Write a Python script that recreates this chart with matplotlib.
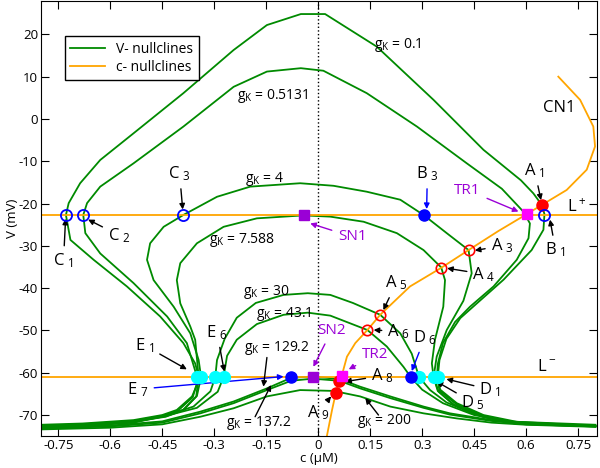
import matplotlib
matplotlib.use("Agg")
import matplotlib.pyplot as plt

plt.rcParams['font.family'] = ['Open Sans', 'DejaVu Sans']
plt.rcParams['mathtext.default'] = 'regular'
plt.rcParams['axes.unicode_minus'] = False

# ---- data: V-nullclines (c in uM, V in mV)
gk_01_c = [-0.8, -0.68, -0.533, -0.45, -0.408, -0.364, -0.348, -0.345, -0.355, -0.389, -0.456, -0.552, -0.648,
           -0.715, -0.728, -0.72, -0.687, -0.629, -0.533, -0.389, -0.244, -0.148, -0.05, 0.02, 0.169, 0.333,
           0.477, 0.585, 0.621, 0.645, 0.653, 0.65, 0.616, 0.535, 0.458, 0.41, 0.37, 0.35, 0.345, 0.352, 0.4,
           0.477, 0.573, 0.8]
gk_01_v = [-72.3, -72.0, -71.2, -70.0, -68.8, -65.6, -62.5, -60.9, -57.8, -53.0, -46.7, -39.6, -33.3,
           -28.6, -22.7, -19.9, -15.2, -9.7, -3.4, 6.1, 16.3, 22.2, 24.8, 24.8, 17.1, 4.5,
           -7.3, -14.5, -17.6, -20.3, -22.5, -26.2, -31.0, -38.0, -43.6, -47.1, -52.0, -57.0, -61.0, -64.0, -67.2,
           -70.0, -71.6, -72.3]

gk_05_c = [-0.8, -0.68, -0.533, -0.45, -0.405, -0.362, -0.35, -0.35, -0.379, -0.436, -0.533, -0.629, -0.672,
           -0.678, -0.667, -0.629, -0.533, -0.389, -0.244, -0.148, -0.05, 0.015, 0.14, 0.285, 0.429, 0.53,
           0.592, 0.611, 0.607, 0.573, 0.506, 0.438, 0.395, 0.36, 0.345, 0.343, 0.35, 0.398, 0.477, 0.573, 0.8]
gk_05_v = [-72.5, -72.2, -71.4, -70.2, -69.0, -65.8, -62.5, -60.9, -53.0, -46.7, -38.8, -31.8, -27.0,
           -22.7, -19.9, -16.0, -10.5, -1.8, 7.6, 11.2, 12.0, 11.4, 6.1, -1.8, -10.5, -16.5,
           -21.9, -24.7, -28.2, -33.3, -39.6, -44.4, -48.0, -53.0, -58.0, -61.0, -64.2, -67.4, -70.2, -71.8, -72.5]

gk_4_c = [-0.8, -0.68, -0.533, -0.44, -0.39, -0.35, -0.338, -0.345, -0.369, -0.417, -0.475, -0.494, -0.485,
          -0.446, -0.389, -0.292, -0.196, -0.052, 0.044, 0.14, 0.237, 0.304, 0.371, 0.434, 0.443, 0.419,
          0.371, 0.342, 0.333, 0.345, 0.39, 0.477, 0.573, 0.8]
gk_4_v = [-72.6, -72.3, -71.5, -70.3, -68.8, -65.5, -61.0, -57.0, -50.7, -44.4, -38.1, -33.3, -29.4,
          -25.5, -22.7, -18.4, -16.0, -15.2, -15.8, -17.2, -19.1, -22.7, -27.0, -31.0, -36.5, -43.0,
          -49.9, -56.2, -61.0, -64.3, -67.5, -70.4, -72.0, -72.6]

gk_7_c = [-0.8, -0.68, -0.533, -0.44, -0.39, -0.352, -0.345, -0.355, -0.369, -0.398, -0.408, -0.398, -0.35,
          -0.273, -0.177, -0.042, 0.035, 0.131, 0.227, 0.304, 0.355, 0.366, 0.361, 0.337, 0.328, 0.333,
          0.347, 0.392, 0.477, 0.573, 0.8]
gk_7_v = [-72.7, -72.4, -71.6, -70.4, -68.9, -65.6, -61.0, -52.2, -49.1, -43.6, -38.1, -34.1, -29.4,
          -25.5, -23.5, -22.8, -23.1, -24.3, -27.0, -31.0, -35.1, -38.1, -44.4, -52.2, -57.8, -61.0,
          -64.4, -67.6, -70.5, -72.1, -72.7]

gk_30_c = [-0.8, -0.68, -0.533, -0.436, -0.36, -0.311, -0.297, -0.292, -0.27, -0.235, -0.18, -0.1, -0.03,
           0.035, 0.1, 0.179, 0.237, 0.27, 0.291, 0.323, 0.37, 0.45, 0.55, 0.8]
gk_30_v = [-72.8, -72.5, -71.7, -70.0, -68.0, -64.4, -61.0, -57.0, -52.0, -47.0, -43.5, -41.6, -41.2,
           -41.6, -43.5, -46.3, -50.7, -55.5, -61.0, -64.1, -67.0, -69.8, -71.5, -72.6]

gk_43_c = [-0.8, -0.68, -0.533, -0.44, -0.35, -0.29, -0.273, -0.263, -0.235, -0.177, -0.1, -0.03, 0.035,
           0.142, 0.198, 0.246, 0.267, 0.3, 0.36, 0.45, 0.55, 0.8]
gk_43_v = [-72.9, -72.6, -71.8, -70.2, -68.3, -64.5, -61.0, -56.0, -52.2, -48.5, -46.3, -45.8, -46.5,
           -49.9, -53.8, -58.6, -61.0, -64.0, -67.2, -70.0, -71.6, -72.7]

gk_129_c = [-0.8, -0.6, -0.45, -0.34, -0.244, -0.148, -0.078, -0.016, 0.063, 0.121, 0.208, 0.304, 0.38,
            0.5, 0.6, 0.8]
gk_129_v = [-73.0, -72.5, -71.5, -69.2, -66.8, -63.7, -61.2, -60.9, -61.5, -63.3, -65.6, -68.0, -69.6,
            -71.2, -72.0, -72.5]

gk_137_c = [-0.8, -0.6, -0.45, -0.34, -0.244, -0.148, -0.078, -0.016, 0.061, 0.121, 0.208, 0.304, 0.38,
            0.5, 0.6, 0.8]
gk_137_v = [-73.2, -72.7, -71.8, -69.6, -67.2, -64.1, -61.9, -61.4, -61.9, -63.7, -66.0, -68.3, -69.9,
            -71.4, -72.2, -72.7]

gk_200_c = [-0.8, -0.6, -0.45, -0.34, -0.244, -0.148, -0.052, 0.044, 0.121, 0.208, 0.304, 0.4, 0.5, 0.6, 0.8]
gk_200_v = [-73.4, -73.0, -72.2, -70.4, -68.4, -65.6, -64.1, -64.3, -65.6, -68.0, -69.6, -70.8, -71.8,
            -72.3, -72.8]

# c-nullclines
cn1_c = [0.025, 0.04, 0.051, 0.061, 0.068, 0.083, 0.107, 0.142, 0.179, 0.265, 0.355, 0.434, 0.52, 0.602,
         0.646, 0.717, 0.775, 0.799, 0.794, 0.756, 0.693]
cn1_v = [-75.0, -68.8, -64.7, -61.9, -60.7, -56.2, -53.0, -49.9, -46.3, -39.6, -35.2, -31.0, -26.5, -22.5,
         -20.3, -16.8, -12.0, -6.5, -1.8, 4.5, 10.0]
l_plus = -22.8
l_minus = -61.0

# equilibria / special points
red_full_c = [0.646, 0.061, 0.051]
red_full_v = [-20.3, -61.9, -64.7]
red_open_c = [0.434, 0.355, 0.179, 0.142]
red_open_v = [-31.0, -35.2, -46.3, -49.9]
blue_open_c = [-0.728, -0.678, -0.389, 0.653]
blue_open_v = [-22.8, -22.8, -22.8, -22.6]
blue_full_c = [0.304, 0.267, -0.078]
blue_full_v = [-22.8, -61.0, -61.0]
cyan_c = [-0.35, -0.338, -0.297, -0.273, 0.291, 0.333, 0.345]
magenta_c = [0.602, 0.068]
magenta_v = [-22.5, -60.7]
purple_c = [-0.042, -0.016]
purple_v = [-22.8, -61.0]

x_ticks = [-0.75, -0.6, -0.45, -0.3, -0.15, 0, 0.15, 0.3, 0.45, 0.6, 0.75]
x_ticklabels = ['-0.75', '-0.6', '-0.45', '-0.3', '-0.15', '0', '0.15', '0.3', '0.45', '0.6', '0.75']
y_ticks = [-70, -60, -50, -40, -30, -20, -10, 0, 10, 20]

green = '#008a00'
orange = '#ffa500'
purple = '#9a00d6'

fig = plt.figure(figsize=(6, 4.68), dpi=100)
ax = fig.add_axes([0.0683, 0.068, 0.9275, 0.93])

ax.axvline(0, color='k', ls=':', lw=1)

curves = [(gk_01_c, gk_01_v), (gk_05_c, gk_05_v), (gk_4_c, gk_4_v), (gk_7_c, gk_7_v),
          (gk_30_c, gk_30_v), (gk_43_c, gk_43_v), (gk_129_c, gk_129_v), (gk_137_c, gk_137_v),
          (gk_200_c, gk_200_v)]
for i, (cc, vv) in enumerate(curves):
    ax.plot(cc, vv, color=green, lw=1.3, label='V- nullclines' if i == 0 else None)

ax.axhline(l_plus, color=orange, lw=1.3, label='c- nullclines')
ax.axhline(l_minus, color=orange, lw=1.3)
ax.plot(cn1_c, cn1_v, color=orange, lw=1.3)

# annotations: (text, text pos, arrow tip, colour)
notes = [
    ('C$_{\\ 1}$', (-0.735, -33.5), (-0.729, -23.6), 'k'),
    ('C$_{\\ 2}$', (-0.575, -27.5), (-0.664, -23.8), 'k'),
    ('C$_{\\ 3}$', (-0.4, -13.0), (-0.391, -21.4), 'k'),
    ('B$_{\\ 3}$', (0.315, -13.0), (0.313, -21.3), 'b'),
    ('B$_{\\ 1}$', (0.685, -31.0), (0.669, -23.8), 'k'),
    ('A$_{\\ 1}$', (0.625, -12.3), (0.643, -19.2), 'k'),
    ('A$_{\\ 3}$', (0.53, -30.0), (0.452, -31.1), 'k'),
    ('A$_{\\ 4}$', (0.478, -36.7), (0.372, -35.3), 'k'),
    ('A$_{\\ 5}$', (0.225, -38.8), (0.188, -45.2), 'k'),
    ('A$_{\\ 6}$', (0.232, -50.2), (0.16, -49.9), 'k'),
    ('D$_{\\ 6}$', (0.308, -51.7), (0.27, -59.6), 'b'),
    ('D$_{\\ 1}$', (0.497, -64.0), (0.37, -61.5), 'k'),
    ('D$_{\\ 5}$', (0.448, -67.1), (0.342, -62.1), 'k'),
    ('A$_{\\ 8}$', (0.185, -60.7), (0.078, -62.1), 'k'),
    ('A$_{\\ 9}$', (0.0, -69.4), (0.037, -65.6), 'k'),
    ('E$_{\\ 1}$', (-0.5, -53.6), (-0.379, -59.2), 'k'),
    ('E$_{\\ 6}$', (-0.292, -50.5), (-0.271, -59.7), 'k'),
    ('E$_{\\ 7}$', (-0.52, -63.9), (-0.1, -60.9), 'b'),
]
for txt, pos, tip, col in notes:
    ax.annotate(txt, xy=tip, xytext=pos, fontsize=12, ha='center', va='center',
                arrowprops=dict(arrowstyle='-|>', color=col, lw=1, mutation_scale=8, shrinkA=2, shrinkB=0))

purple_notes = [
    ('TR1', (0.43, -16.8), (0.578, -21.9)),
    ('SN1', (0.1, -27.9), (-0.023, -24.7)),
    ('SN2', (0.04, -49.9), (-0.014, -58.6)),
    ('TR2', (0.165, -55.8), (0.088, -59.2)),
]
for txt, pos, tip in purple_notes:
    ax.annotate(txt, xy=tip, xytext=pos, fontsize=11, color=purple, ha='center', va='center',
                arrowprops=dict(arrowstyle='-|>', color=purple, lw=1, mutation_scale=8, shrinkA=3, shrinkB=0))

# gK labels
gk_labels = [('g$_K$ = 0.1', (0.23, 17.5)), ('g$_K$ = 0.5131', (-0.13, 5.5)), ('g$_K$ = 4', (-0.155, -14.2)),
             ('g$_K$ = 7.588', (-0.22, -28.6)), ('g$_K$ = 30', (-0.15, -40.9)), ('g$_K$ = 43.1', (-0.1, -46.0)),
             ('g$_K$ = 129.2', (-0.12, -54.2)), ('g$_K$ = 137.2', (-0.17, -72.0)), ('g$_K$ = 200', (0.19, -71.4))]
for txt, pos in gk_labels:
    ax.text(pos[0], pos[1], txt, fontsize=10, ha='center', va='center')

ax.annotate('', xy=(-0.158, -63.3), xytext=(-0.148, -56.4),
            arrowprops=dict(arrowstyle='-|>', color='k', lw=1, mutation_scale=8, shrinkA=0, shrinkB=0))
ax.annotate('', xy=(-0.136, -62.9), xytext=(-0.182, -70.4),
            arrowprops=dict(arrowstyle='-|>', color='k', lw=1, mutation_scale=8, shrinkA=0, shrinkB=0))
ax.annotate('', xy=(0.136, -66.0), xytext=(0.174, -70.0),
            arrowprops=dict(arrowstyle='-|>', color='k', lw=1, mutation_scale=8, shrinkA=0, shrinkB=0))

ax.text(0.695, 2.6, 'CN1', fontsize=12, ha='center', va='center')
ax.text(0.745, -20.8, 'L$^+$', fontsize=12, ha='center', va='center')
ax.text(0.66, -58.6, 'L$^-$', fontsize=12, ha='center', va='center')

# markers
ax.plot(cyan_c, [l_minus] * len(cyan_c), 'o', color='cyan', ms=8.5, zorder=5)
ax.plot(red_full_c, red_full_v, 'o', color='red', ms=8, zorder=6)
ax.plot(red_open_c, red_open_v, 'o', mfc='none', mec='red', mew=1.2, ms=7.5, zorder=6)
ax.plot(blue_open_c, blue_open_v, 'o', mfc='none', mec='blue', mew=1.3, ms=8, zorder=6)
ax.plot(blue_full_c, blue_full_v, 'o', color='blue', ms=8, zorder=6)
ax.plot(magenta_c, magenta_v, 's', color='magenta', ms=7.5, zorder=6)
ax.plot(purple_c, purple_v, 's', color=purple, ms=7, zorder=6)

ax.set_xlim(-0.8, 0.806)
ax.set_ylim(-75, 27.9)
ax.set_xticks(x_ticks)
ax.set_xticklabels(x_ticklabels)
ax.set_yticks(y_ticks)
ax.tick_params(direction='in', top=True, right=True, length=6, labelsize=9.5, pad=2)
ax.set_xlabel('c (μM)', fontsize=9.5, labelpad=0)
ax.set_ylabel('V (mV)', fontsize=9.5, labelpad=0)

ax.legend(loc='upper left', bbox_to_anchor=(0.03, 0.935), fontsize=10, fancybox=False,
          edgecolor='k', framealpha=1, handlelength=2.5, borderpad=0.4, labelspacing=0.2)

fig.savefig('out.png', dpi=100)
